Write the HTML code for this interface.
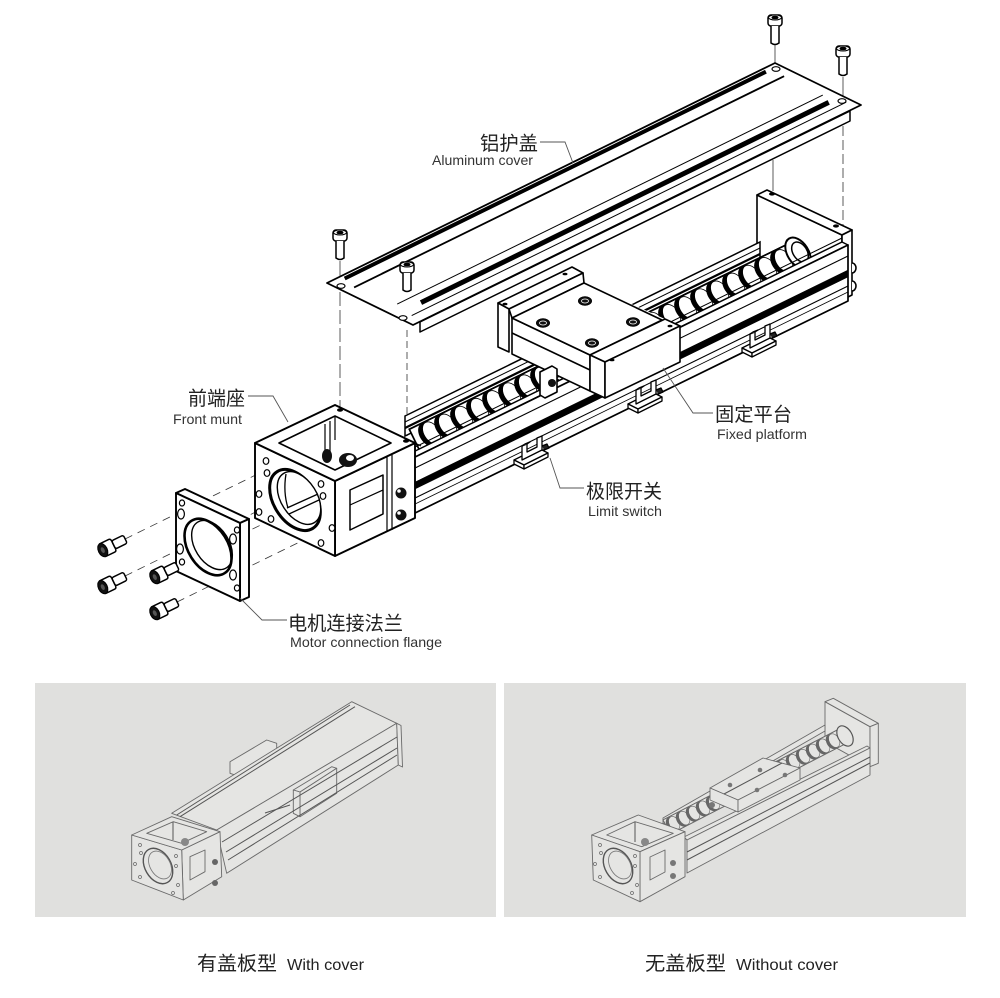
<!DOCTYPE html>
<html><head><meta charset="utf-8">
<style>
html,body{margin:0;padding:0;background:#fff;}
svg{display:block;}
text{font-family:"Liberation Sans","Noto Sans CJK SC",sans-serif;}
</style></head><body>
<svg width="1000" height="998" viewBox="0 0 1000 998" xmlns="http://www.w3.org/2000/svg" xmlns:xlink="http://www.w3.org/1999/xlink">
<defs>
 <clipPath id="scr"><polygon points="420.7,452.7 800.7,266.7 789.3,243.3 409.3,429.3"/></clipPath>
 <clipPath id="scr2"><polygon points="670.4,834.1 848.7,742.1 841.3,727.9 663,819.9"/></clipPath>
 <g id="th">
  <ellipse cx="0" cy="0" rx="13" ry="8.3" transform="rotate(57.7)" fill="#000"/>
  <ellipse cx="0" cy="0" rx="12" ry="7.6" transform="translate(3.6,-1.8) rotate(57.7)" fill="#fff" stroke="#000" stroke-width="0.8"/>
 </g>
 <g id="th2">
  <ellipse cx="0" cy="0" rx="8" ry="5.5" transform="rotate(60)" fill="#666"/>
  <ellipse cx="0" cy="0" rx="7.3" ry="5" transform="translate(2.2,-1.1) rotate(60)" fill="#e5e5e3" stroke="#666" stroke-width="0.6"/>
 </g>
</defs>
<rect width="1000" height="998" fill="#fff"/>

<!-- guide lines -->
<g stroke="#333" stroke-width="0.8" fill="none">
 <line x1="775" y1="45" x2="775" y2="64"/>
 <line x1="773" y1="160" x2="773" y2="191"/>
 <line x1="843" y1="77" x2="843" y2="100"/>
 <line x1="843" y1="126" x2="843" y2="226" stroke-dasharray="10,4"/>
 <line x1="340" y1="261" x2="340" y2="284"/>
 <line x1="340" y1="292" x2="340" y2="407" stroke-dasharray="14,4"/>
 <line x1="407" y1="330" x2="407" y2="439" stroke-dasharray="7,4"/>
</g>
<g stroke="#333" stroke-width="0.8" stroke-dasharray="8,6">
 <line x1="125" y1="539" x2="268" y2="469"/>
 <line x1="125" y1="576" x2="268" y2="506"/>
 <line x1="177" y1="566" x2="320" y2="496"/>
 <line x1="177" y1="602" x2="320" y2="532"/>
</g>

<!-- end plate -->
<g stroke="#000" stroke-width="1.6" fill="#fff" stroke-linejoin="round">
 <polygon points="757,195 842,235 842,300 757,260"/>
 <polygon points="757,195 767,190 852,230 842,235"/>
 <polygon points="842,235 852,230 852,295 842,300"/>
 <path d="M852,263 a4,5 0 0 1 0,10"/>
 <path d="M852,281 a4,5 0 0 1 0,10"/>
</g>
<ellipse cx="772" cy="194" rx="3" ry="1.6" fill="#000"/>
<ellipse cx="836" cy="226" rx="3" ry="1.6" fill="#000"/>

<!-- back wall -->
<polygon points="405,416 760,242 760,262 405,436" fill="#fff" stroke="#000" stroke-width="1.5"/>
<line x1="405" y1="422" x2="760" y2="248" stroke="#000" stroke-width="1"/>
<line x1="405" y1="428" x2="760" y2="254" stroke="#000" stroke-width="2.2"/>

<!-- ball screw -->
<polygon points="420.7,452.7 800.7,266.7 789.3,243.3 409.3,429.3" fill="#fff" stroke="#000" stroke-width="1.6"/>
<g clip-path="url(#scr)">
 <use xlink:href="#th" x="428" y="434.6"/>
 <use xlink:href="#th" x="444" y="426.8"/>
 <use xlink:href="#th" x="460" y="419"/>
 <use xlink:href="#th" x="476" y="411.1"/>
 <use xlink:href="#th" x="492" y="403.3"/>
 <use xlink:href="#th" x="508" y="395.5"/>
 <use xlink:href="#th" x="524" y="387.6"/>
 <use xlink:href="#th" x="540" y="379.8"/>
 <use xlink:href="#th" x="556" y="372"/>
 <use xlink:href="#th" x="572" y="364.1"/>
 <use xlink:href="#th" x="588" y="356.3"/>
 <use xlink:href="#th" x="604" y="348.5"/>
 <use xlink:href="#th" x="620" y="340.7"/>
 <use xlink:href="#th" x="636" y="332.8"/>
 <use xlink:href="#th" x="652" y="325"/>
 <use xlink:href="#th" x="668" y="317.2"/>
 <use xlink:href="#th" x="684" y="309.3"/>
 <use xlink:href="#th" x="700" y="301.5"/>
 <use xlink:href="#th" x="716" y="293.7"/>
 <use xlink:href="#th" x="732" y="285.8"/>
 <use xlink:href="#th" x="748" y="278"/>
 <use xlink:href="#th" x="764" y="270.2"/>
 <use xlink:href="#th" x="780" y="262.3"/>
</g>
<polygon points="420.7,452.7 800.7,266.7 789.3,243.3 409.3,429.3" fill="none" stroke="#000" stroke-width="1.6"/>
<ellipse cx="798" cy="253" rx="17" ry="10.5" transform="rotate(57.7 798 253)" fill="#fff" stroke="#000" stroke-width="2"/>
<ellipse cx="800" cy="252" rx="11" ry="7" transform="rotate(57.7 800 252)" fill="#fff" stroke="#000" stroke-width="1.5"/>

<!-- rail front -->
<g stroke="#000" stroke-linejoin="round">
 <polygon points="405,456 842,242 848,245 411,459" fill="#fff" stroke-width="1.5"/>
 <polygon points="411,459 848,245 848,301 411,515" fill="#fff" stroke-width="1.7"/>
 <line x1="405" y1="452" x2="842" y2="238" stroke-width="1"/>
 <line x1="411" y1="470" x2="848" y2="256" stroke-width="1.1"/>
 <polygon points="411,484 848,270 848,277 411,491" fill="#000" stroke-width="0.5"/>
 <line x1="411" y1="500" x2="848" y2="286" stroke-width="1.1"/>
 <line x1="411" y1="506" x2="848" y2="292" stroke-width="0.8"/>
</g>

<!-- carriage -->
<polygon points="498,303 572,267 583,273 584,283 665,319 680,326 680,362 605,398 590,391 512,354 498,347" fill="#fff"/>
<g stroke="#000" stroke-width="1.6" fill="#fff" stroke-linejoin="round">
 <polygon points="498,303 572,267 583,273 509,309"/>
 <polygon points="498,303 509,309 509,352 498,347"/>
 <polygon points="509,309 583,273 584,283 512,318"/>
 <polygon points="512,318 590,355 590,391 512,354"/>
 <line x1="512" y1="333" x2="590" y2="370"/>
 <polygon points="512,318 584,283 662,320 590,355"/>
 <polygon points="590,355 665,319 680,326 605,362"/>
 <polygon points="590,355 605,362 605,398 590,391"/>
 <polygon points="605,362 680,326 680,362 605,398"/>
 <polygon points="540,372 552,366 557,369 557,392 545,398 540,395"/>
</g>
<circle cx="552" cy="383" r="4" fill="#111"/>
<g fill="#111" stroke="#000">
 <ellipse cx="543" cy="323" rx="6.5" ry="4.2"/>
 <ellipse cx="585" cy="301" rx="6.5" ry="4.2"/>
 <ellipse cx="633" cy="322" rx="6.5" ry="4.2"/>
 <ellipse cx="592" cy="343" rx="6.5" ry="4.2"/>
</g>
<g fill="none" stroke="#fff" stroke-width="0.8">
 <ellipse cx="543" cy="323" rx="3.5" ry="2"/>
 <ellipse cx="585" cy="301" rx="3.5" ry="2"/>
 <ellipse cx="633" cy="322" rx="3.5" ry="2"/>
 <ellipse cx="592" cy="343" rx="3.5" ry="2"/>
</g>
<g fill="#000">
 <ellipse cx="505" cy="304" rx="2.5" ry="1.3"/>
 <ellipse cx="565" cy="274" rx="2.5" ry="1.3"/>
 <ellipse cx="670" cy="326" rx="2.5" ry="1.3"/>
 <ellipse cx="612" cy="360" rx="2.5" ry="1.3"/>
</g>

<!-- limit switches -->
<g stroke="#000" stroke-width="1.3" fill="#fff" stroke-linejoin="round">
 <g transform="translate(532,456)">
  <polygon points="-18,4 6,-8 16,-3 -8,9"/>
  <polygon points="-18,4 -8,9 -8,13 -18,8"/>
  <polygon points="-8,9 16,-3 16,1 -8,13"/>
  <path d="M-10,-10 L-10,4 L10,-6 L10,-20 L5,-18 L5,-9 L-5,-4 L-5,-12 Z"/>
  <path d="M-10,-10 L-7,-12 L-2,-14 L-5,-12"/>
  <path d="M10,-10 L15,-12 L17,-8 L12,-6" fill="#222"/>
 </g>
 <g transform="translate(646,400)">
  <polygon points="-18,4 6,-8 16,-3 -8,9"/>
  <polygon points="-18,4 -8,9 -8,13 -18,8"/>
  <polygon points="-8,9 16,-3 16,1 -8,13"/>
  <path d="M-10,-10 L-10,4 L10,-6 L10,-20 L5,-18 L5,-9 L-5,-4 L-5,-12 Z"/>
  <path d="M-10,-10 L-7,-12 L-2,-14 L-5,-12"/>
  <path d="M10,-10 L15,-12 L17,-8 L12,-6" fill="#222"/>
 </g>
 <g transform="translate(760,344)">
  <polygon points="-18,4 6,-8 16,-3 -8,9"/>
  <polygon points="-18,4 -8,9 -8,13 -18,8"/>
  <polygon points="-8,9 16,-3 16,1 -8,13"/>
  <path d="M-10,-10 L-10,4 L10,-6 L10,-20 L5,-18 L5,-9 L-5,-4 L-5,-12 Z"/>
  <path d="M-10,-10 L-7,-12 L-2,-14 L-5,-12"/>
  <path d="M10,-10 L15,-12 L17,-8 L12,-6" fill="#222"/>
 </g>
</g>

<!-- aluminum cover -->
<g stroke="#000" stroke-linejoin="round">
 <polygon points="420,322 850,111 850,121 420,332" fill="#fff" stroke-width="1.5"/>
 <polygon points="327,283 775,63 861,105 413,325" fill="#fff" stroke-width="1.8"/>
 <line x1="344.7" y1="278.5" x2="765.9" y2="71.7" stroke-width="4"/>
 <line x1="354.1" y1="287.4" x2="784.1" y2="76.2" stroke-width="1.8"/>
 <line x1="397.2" y1="304.1" x2="822.8" y2="95.1" stroke-width="1"/>
 <line x1="421" y1="302.6" x2="828.7" y2="102.4" stroke-width="5"/>
 <line x1="411.7" y1="315.6" x2="846.2" y2="102.2" stroke-width="1"/>
</g>
<g fill="#fff" stroke="#000" stroke-width="1.2">
 <ellipse cx="341" cy="286" rx="4" ry="2.3"/>
 <ellipse cx="403" cy="318" rx="4" ry="2.3"/>
 <ellipse cx="776" cy="69" rx="4" ry="2.3"/>
 <ellipse cx="842" cy="101" rx="4" ry="2.3"/>
</g>

<!-- vertical screws -->
<g stroke="#000" fill="#fff">
 <g transform="translate(775,15)">
  <rect x="-7" y="0" width="14" height="11" rx="3" stroke-width="1.5"/>
  <ellipse cx="0" cy="2.5" rx="6.5" ry="2.5" stroke-width="1"/>
  <ellipse cx="0" cy="2.5" rx="3" ry="1.3" fill="#000"/>
  <path d="M-4,11 L-4,28 Q0,31 4,28 L4,11" stroke-width="1.5"/>
 </g>
 <g transform="translate(843,46)">
  <rect x="-7" y="0" width="14" height="11" rx="3" stroke-width="1.5"/>
  <ellipse cx="0" cy="2.5" rx="6.5" ry="2.5" stroke-width="1"/>
  <ellipse cx="0" cy="2.5" rx="3" ry="1.3" fill="#000"/>
  <path d="M-4,11 L-4,28 Q0,31 4,28 L4,11" stroke-width="1.5"/>
 </g>
 <g transform="translate(340,230)">
  <rect x="-7" y="0" width="14" height="11" rx="3" stroke-width="1.5"/>
  <ellipse cx="0" cy="2.5" rx="6.5" ry="2.5" stroke-width="1"/>
  <ellipse cx="0" cy="2.5" rx="3" ry="1.3" fill="#000"/>
  <path d="M-4,11 L-4,28 Q0,31 4,28 L4,11" stroke-width="1.5"/>
 </g>
 <g transform="translate(407,262)">
  <rect x="-7" y="0" width="14" height="11" rx="3" stroke-width="1.5"/>
  <ellipse cx="0" cy="2.5" rx="6.5" ry="2.5" stroke-width="1"/>
  <ellipse cx="0" cy="2.5" rx="3" ry="1.3" fill="#000"/>
  <path d="M-4,11 L-4,28 Q0,31 4,28 L4,11" stroke-width="1.5"/>
 </g>
</g>

<!-- front mount cube -->
<g stroke="#000" stroke-width="1.9" fill="#fff" stroke-linejoin="round">
 <polygon points="335,481 415,443 415,518 335,556"/>
 <polygon points="255,443 335,481 335,556 255,518"/>
 <polygon points="255,443 335,405 415,443 335,481"/>
 <polygon points="279,443 335,416 391,443 335,470" stroke-width="1.6"/>
 <polygon points="350,490 383,475 383,514 350,530" stroke-width="1.5"/>
</g>
<g stroke="#000" fill="none" stroke-width="1.2">
 <line x1="335" y1="416" x2="335" y2="440"/>
 <line x1="325" y1="424" x2="325" y2="455"/>
 <line x1="330" y1="421" x2="330" y2="452"/>
 <line x1="350" y1="505" x2="383" y2="490"/>
 <line x1="387" y1="457" x2="387" y2="532"/>
 <line x1="392" y1="455" x2="392" y2="530"/>
 <line x1="415" y1="443" x2="421" y2="446"/>
</g>
<ellipse cx="327" cy="456" rx="5" ry="7" fill="#111"/>
<ellipse cx="348" cy="460" rx="9" ry="7" fill="#111"/>
<ellipse cx="350" cy="458" rx="4" ry="3" fill="#fff"/>
<circle cx="401" cy="493" r="5.5" fill="#111"/>
<circle cx="401" cy="515" r="5.5" fill="#111"/>
<circle cx="399" cy="491" r="1.8" fill="#fff"/>
<circle cx="399" cy="513" r="1.8" fill="#fff"/>
<ellipse cx="340" cy="410" rx="3" ry="1.8" fill="#000"/>
<ellipse cx="406" cy="441" rx="3" ry="1.8" fill="#000"/>
<!-- front face circle -->
<ellipse cx="295" cy="500" rx="33.5" ry="21.2" transform="rotate(57.7 295 500)" fill="#fff" stroke="#000" stroke-width="3"/>
<ellipse cx="299" cy="498" rx="29" ry="18" transform="rotate(57.7 299 498)" fill="#fff" stroke="#000" stroke-width="1.4"/>
<g stroke="#000" stroke-width="1.3" fill="none">
 <line x1="287" y1="508" x2="318" y2="494"/>
 <line x1="289" y1="514" x2="319" y2="500"/>
 <path d="M286,474 Q283,492 288,508"/>
</g>
<g fill="#fff" stroke="#000" stroke-width="1.2">
 <ellipse cx="266" cy="461" rx="2.8" ry="3.3"/>
 <ellipse cx="267" cy="473" rx="2.8" ry="3.3"/>
 <ellipse cx="259" cy="494" rx="2.8" ry="3.3"/>
 <ellipse cx="259" cy="512" rx="2.8" ry="3.3"/>
 <ellipse cx="271" cy="519" rx="2.8" ry="3.3"/>
 <ellipse cx="321" cy="484" rx="2.8" ry="3.3"/>
 <ellipse cx="323" cy="496" rx="2.8" ry="3.3"/>
 <ellipse cx="332" cy="528" rx="2.8" ry="3.3"/>
 <ellipse cx="321" cy="543" rx="2.8" ry="3.3"/>
</g>

<!-- flange -->
<g stroke="#000" stroke-width="1.9" fill="#fff" stroke-linejoin="round">
 <polygon points="176,493 185,489 249,519 240,523"/>
 <polygon points="240,523 249,519 249,597 240,601"/>
 <polygon points="176,493 240,523 240,601 176,571"/>
</g>
<ellipse cx="208" cy="547" rx="31" ry="19.7" transform="rotate(57.7 208 547)" fill="#fff" stroke="#000" stroke-width="2.6"/>
<ellipse cx="212" cy="545" rx="27" ry="17" transform="rotate(57.7 212 545)" fill="none" stroke="#000" stroke-width="1.4"/>
<g fill="#fff" stroke="#000" stroke-width="1.2">
 <ellipse cx="182" cy="503" rx="2.6" ry="3"/>
 <ellipse cx="181" cy="514" rx="3.4" ry="5"/>
 <ellipse cx="180" cy="549" rx="3.4" ry="5"/>
 <ellipse cx="182" cy="562" rx="2.6" ry="3"/>
 <ellipse cx="237" cy="530" rx="2.6" ry="3"/>
 <ellipse cx="233" cy="539" rx="3.4" ry="5"/>
 <ellipse cx="233" cy="575" rx="3.4" ry="5"/>
 <ellipse cx="237" cy="588" rx="2.6" ry="3"/>
</g>

<!-- bolts -->
<g stroke="#000">
 <g transform="translate(101,551) rotate(-26)">
  <path d="M2,-7 L12,-7 Q14,-7 14,-4 L14,4 Q14,7 12,7 L2,7 Z" fill="#fff" stroke-width="1.5"/>
  <rect x="14" y="-4.5" width="13" height="9" rx="2" fill="#fff" stroke-width="1.5"/>
  <ellipse cx="2" cy="0" rx="4.5" ry="7" fill="#111"/>
  <ellipse cx="2" cy="0" rx="1.8" ry="3" fill="#555" stroke="none"/>
 </g>
 <g transform="translate(101,588) rotate(-26)">
  <path d="M2,-7 L12,-7 Q14,-7 14,-4 L14,4 Q14,7 12,7 L2,7 Z" fill="#fff" stroke-width="1.5"/>
  <rect x="14" y="-4.5" width="13" height="9" rx="2" fill="#fff" stroke-width="1.5"/>
  <ellipse cx="2" cy="0" rx="4.5" ry="7" fill="#111"/>
  <ellipse cx="2" cy="0" rx="1.8" ry="3" fill="#555" stroke="none"/>
 </g>
 <g transform="translate(153,578) rotate(-26)">
  <path d="M2,-7 L12,-7 Q14,-7 14,-4 L14,4 Q14,7 12,7 L2,7 Z" fill="#fff" stroke-width="1.5"/>
  <rect x="14" y="-4.5" width="13" height="9" rx="2" fill="#fff" stroke-width="1.5"/>
  <ellipse cx="2" cy="0" rx="4.5" ry="7" fill="#111"/>
  <ellipse cx="2" cy="0" rx="1.8" ry="3" fill="#555" stroke="none"/>
 </g>
 <g transform="translate(153,614) rotate(-26)">
  <path d="M2,-7 L12,-7 Q14,-7 14,-4 L14,4 Q14,7 12,7 L2,7 Z" fill="#fff" stroke-width="1.5"/>
  <rect x="14" y="-4.5" width="13" height="9" rx="2" fill="#fff" stroke-width="1.5"/>
  <ellipse cx="2" cy="0" rx="4.5" ry="7" fill="#111"/>
  <ellipse cx="2" cy="0" rx="1.8" ry="3" fill="#555" stroke="none"/>
 </g>
</g>

<!-- leaders -->
<g stroke="#555" stroke-width="0.9" fill="none">
 <polyline points="540,142 565,142 573,163"/>
 <polyline points="248,396 273,396 288,422"/>
 <polyline points="713,413 693,413 663,368"/>
 <polyline points="584,488 560,488 550,458"/>
 <polyline points="287,620 262,620 240,598"/>
</g>

<!-- labels -->
<g fill="#222">
 <text x="480" y="150" font-size="19.5" textLength="58" lengthAdjust="spacingAndGlyphs">铝护盖</text>
 <text x="432" y="165" font-size="14" fill="#333" textLength="101" lengthAdjust="spacingAndGlyphs">Aluminum cover</text>
 <text x="188" y="405" font-size="19.5" textLength="57" lengthAdjust="spacingAndGlyphs">前端座</text>
 <text x="173" y="424" font-size="14" fill="#333" textLength="69" lengthAdjust="spacingAndGlyphs">Front munt</text>
 <text x="715" y="421" font-size="19.5" textLength="77" lengthAdjust="spacingAndGlyphs">固定平台</text>
 <text x="717" y="439" font-size="14" fill="#333" textLength="90" lengthAdjust="spacingAndGlyphs">Fixed platform</text>
 <text x="586" y="498" font-size="19.5" textLength="76" lengthAdjust="spacingAndGlyphs">极限开关</text>
 <text x="588" y="516" font-size="14" fill="#333" textLength="74" lengthAdjust="spacingAndGlyphs">Limit switch</text>
 <text x="288" y="630" font-size="19.5" textLength="115" lengthAdjust="spacingAndGlyphs">电机连接法兰</text>
 <text x="290" y="647" font-size="14" fill="#333" textLength="152" lengthAdjust="spacingAndGlyphs">Motor connection flange</text>
</g>

<!-- bottom panels -->
<rect x="35" y="683" width="461" height="234" fill="#e0e0de"/>
<rect x="504" y="683" width="462" height="234" fill="#e0e0de"/>

<!-- left panel: with cover -->
<g stroke="#6a6a6a" stroke-width="0.9" fill="#e5e5e3" stroke-linejoin="round">
 <polygon points="230,761.7 266.7,740 276.7,743.3 276.7,756.7 240,776.7 230,773.3"/>
 <polygon points="171.7,813.3 351.7,701.7 396.7,723.3 216.7,830"/>
 <polygon points="216.7,830 396.7,723.3 398.3,765 226.7,873.3"/>
 <polygon points="396.7,723.3 401,725.5 402.5,767 398.3,765"/>
 <polygon points="293.3,790 331.7,766.7 336.7,768.3 300,792"/>
 <polygon points="300,792 336.7,768.3 336.7,793.3 300,816.7"/>
 <polygon points="293.3,790 300,792 300,816.7 293.3,813.3"/>
 <polygon points="181.7,850 220,831.7 221.7,876.7 183.3,900"/>
 <polygon points="131.7,835 181.7,850 183.3,900 131.7,880"/>
 <polygon points="131.7,835 171.7,816.7 220,831.7 181.7,850"/>
 <polygon points="146.7,833.3 173.3,821.7 206.7,831.7 181.7,843.3"/>
 <polygon points="190,856.7 205,850 205,871.7 190,880"/>
</g>
<g stroke="#555" stroke-width="1" fill="none">
 <line x1="176.7" y1="815" x2="350" y2="705"/>
 <line x1="180" y1="816.7" x2="355" y2="706.7"/>
 <line x1="222" y1="842" x2="397" y2="737"/>
 <line x1="226" y1="852" x2="397" y2="748"/>
 <line x1="228" y1="860" x2="397" y2="755"/>
 <line x1="173" y1="822" x2="173" y2="840"/>
 <line x1="265" y1="813" x2="290" y2="805"/>
</g>
<ellipse cx="158" cy="866" rx="19" ry="13" transform="rotate(60 158 866)" fill="#e5e5e3" stroke="#555" stroke-width="1.4"/>
<ellipse cx="160" cy="865" rx="15" ry="10" transform="rotate(60 160 865)" fill="none" stroke="#777" stroke-width="0.8"/>
<circle cx="215" cy="862" r="3" fill="#666"/>
<circle cx="215" cy="883" r="3" fill="#666"/>
<circle cx="185" cy="842" r="4" fill="#888"/>
<g fill="none" stroke="#666" stroke-width="0.7">
 <circle cx="140" cy="845" r="1.5"/><circle cx="141" cy="853" r="1.5"/><circle cx="135" cy="864" r="1.5"/>
 <circle cx="140" cy="877" r="1.5"/><circle cx="176" cy="856" r="1.5"/><circle cx="176" cy="866" r="1.5"/>
 <circle cx="178" cy="885" r="1.5"/><circle cx="173" cy="893" r="1.5"/>
</g>

<!-- right panel: without cover -->
<g stroke="#6a6a6a" stroke-width="0.9" fill="#e5e5e3" stroke-linejoin="round">
 <polygon points="825,701.7 870,726.7 870,766.7 825,741.7"/>
 <polygon points="825,701.7 833.3,698.3 878.3,723.3 870,726.7"/>
 <polygon points="870,726.7 878.3,723.3 878.3,763.3 870,766.7"/>
 <polygon points="663,818 825,725 825,731 663,824"/>
 <polygon points="670.4,834.1 848.7,742.1 841.3,727.9 663,819.9"/>
</g>
<g clip-path="url(#scr2)">
 <use xlink:href="#th2" x="672" y="824.4"/>
 <use xlink:href="#th2" x="682" y="819.2"/>
 <use xlink:href="#th2" x="692" y="814.1"/>
 <use xlink:href="#th2" x="702" y="808.9"/>
 <use xlink:href="#th2" x="712" y="803.7"/>
 <use xlink:href="#th2" x="722" y="798.6"/>
 <use xlink:href="#th2" x="782" y="767.5"/>
 <use xlink:href="#th2" x="792" y="762.4"/>
 <use xlink:href="#th2" x="802" y="757.2"/>
 <use xlink:href="#th2" x="812" y="752"/>
 <use xlink:href="#th2" x="822" y="746.9"/>
 <use xlink:href="#th2" x="832" y="741.7"/>
</g>
<polygon points="670.4,834.1 848.7,742.1 841.3,727.9 663,819.9" fill="none" stroke="#6a6a6a" stroke-width="0.9"/>
<ellipse cx="845" cy="736" rx="11" ry="7" transform="rotate(60 845 736)" fill="#e5e5e3" stroke="#555" stroke-width="1.2"/>
<g stroke="#6a6a6a" stroke-width="0.9" fill="#e5e5e3" stroke-linejoin="round">
 <polygon points="684,837 867,746 870,748 687,840"/>
 <polygon points="687,840 870,748 870,775 687,873"/>
 <polygon points="710,788 763,758 800,768 738,800"/>
 <polygon points="710,788 738,800 738,812 710,800"/>
 <polygon points="738,800 800,768 800,780 738,812"/>
 <polygon points="591.7,835 638.3,815 685,831.7 640,851.7"/>
 <polygon points="640,851.7 685,831.7 685,876.7 640,901.7"/>
 <polygon points="591.7,835 640,851.7 640,901.7 593.3,880"/>
 <polygon points="606.7,835 635,821.7 673.3,833.3 641.7,846.7"/>
 <polygon points="650,857 665,850 665,872 650,880"/>
</g>
<g stroke="#555" stroke-width="1" fill="none">
 <line x1="687" y1="852" x2="870" y2="757"/>
 <line x1="687" y1="860" x2="870" y2="763"/>
 <line x1="724" y1="794" x2="782" y2="763"/>
 <line x1="635" y1="822" x2="635" y2="842"/>
</g>
<g fill="#777">
 <circle cx="730" cy="785" r="2.3"/><circle cx="760" cy="770" r="2.3"/>
 <circle cx="757" cy="790" r="2.3"/><circle cx="785" cy="775" r="2.3"/>
 <circle cx="673" cy="863" r="3"/><circle cx="673" cy="876" r="3"/>
 <circle cx="712" cy="805" r="3"/>
</g>
<ellipse cx="618" cy="866" rx="19" ry="13" transform="rotate(60 618 866)" fill="#e5e5e3" stroke="#555" stroke-width="1.4"/>
<ellipse cx="620" cy="865" rx="15" ry="10" transform="rotate(60 620 865)" fill="none" stroke="#777" stroke-width="0.8"/>
<circle cx="645" cy="842" r="4" fill="#888"/>
<g fill="none" stroke="#666" stroke-width="0.7">
 <circle cx="600" cy="845" r="1.5"/><circle cx="601" cy="853" r="1.5"/><circle cx="595" cy="864" r="1.5"/>
 <circle cx="600" cy="877" r="1.5"/><circle cx="635" cy="856" r="1.5"/><circle cx="635" cy="866" r="1.5"/>
 <circle cx="637" cy="885" r="1.5"/><circle cx="632" cy="893" r="1.5"/>
</g>

<!-- captions -->
<g fill="#222">
 <text x="197" y="970" font-size="19.5" textLength="80" lengthAdjust="spacingAndGlyphs">有盖板型</text>
 <text x="287" y="970" font-size="16" textLength="77" lengthAdjust="spacingAndGlyphs">With cover</text>
 <text x="645" y="970" font-size="19.5" textLength="81" lengthAdjust="spacingAndGlyphs">无盖板型</text>
 <text x="736" y="970" font-size="16" textLength="102" lengthAdjust="spacingAndGlyphs">Without cover</text>
</g>
</svg>
</body></html>
